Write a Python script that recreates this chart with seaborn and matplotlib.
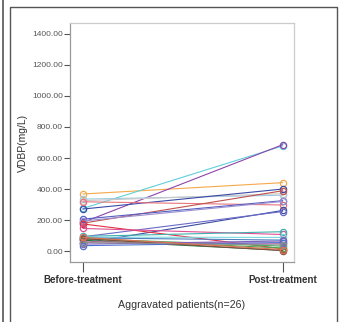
import matplotlib
matplotlib.use("Agg")
import matplotlib.pyplot as plt
from matplotlib.lines import Line2D
import numpy as np
import pandas as pd
import seaborn as sns

# values (mg/L)
times = ["Before-treatment", "Post-treatment"]
before = [368, 275, 185, 335, 325, 271, 318, 180, 206, 194, 50, 92, 175,
          146, 95, 90, 85, 80, 70, 78, 60, 45, 35, 80, 55, 88]
after = [441, 678, 686, 360, 370, 400, 297, 389, 325, 320, 262, 255, 15,
         107, 125, 88, 71, 32, 5, 20, 50, 65, 55, 3, 40, 10]
colors = ["#f5a94a", "#5fd0d8", "#8e44ad", "#9ecae1", "#c8c8c8", "#3a4aa8",
          "#e8747c", "#c0504d", "#5560c0", "#9a8fd0", "#3b4ba0", "#6a6ac8",
          "#e03040", "#e05090", "#40b0b0", "#80d8e0", "#4f81bd", "#3cb060",
          "#207040", "#50a050", "#d070a0", "#8060c0", "#5070d0", "#805040",
          "#909090", "#e07050"]

patients = [f"P{i+1}" for i in range(len(before))]
df = pd.DataFrame({
    "patient": patients * 2,
    "time": [times[0]] * len(before) + [times[1]] * len(after),
    "value": before + after,
})
df["x"] = df["time"].map({times[0]: 0, times[1]: 1})

sns.set_style("white")
plt.rcParams["font.family"] = ["Liberation Sans", "DejaVu Sans"]

fig = plt.figure(figsize=(3.46, 3.22), dpi=100)
ax = fig.add_axes([0.202, 0.186, 0.647, 0.743])

sns.lineplot(data=df, x="x", y="value", hue="patient", hue_order=patients,
             palette=colors, marker="o", markersize=4.5, linewidth=0.8,
             legend=False, ax=ax, sort=False)
for ln in ax.lines:
    ln.set_markerfacecolor("none")
    ln.set_markeredgecolor(ln.get_color())
    ln.set_markeredgewidth(0.9)

ax.set_xlim(-0.065, 1.055)
ax.set_ylim(-71, 1471)
ax.set_xticks([0, 1])
ax.set_xticklabels(times, fontsize=7, fontweight="bold", color="#333333")
ax.set_yticks(np.arange(0, 1401, 200))
ax.set_yticklabels([f"{v:.2f}" for v in np.arange(0, 1401, 200)],
                   fontsize=6, color="#555555")
ax.tick_params(axis="y", direction="out", length=4, width=0.8,
               color="#555555", pad=1, left=True)
ax.tick_params(axis="x", direction="out", length=7, width=0.8,
               color="#555555", pad=2, bottom=True)
ax.set_xlabel("Aggravated patients(n=26)", fontsize=7.7, color="#333333",
              labelpad=11)
ax.set_ylabel("VDBP(mg/L)", fontsize=7.5, color="#333333", labelpad=3)

for s in ["left", "bottom"]:
    ax.spines[s].set_color("#999999")
    ax.spines[s].set_linewidth(0.9)
for s in ["top", "right"]:
    ax.spines[s].set_color("#cccccc")
    ax.spines[s].set_linewidth(0.9)

# surrounding panel frame
W, H = 346, 322
fig.add_artist(Line2D([3 / W, 3 / W], [0, 1], color="#555555", lw=1.2))
fig.add_artist(Line2D([9.5 / W, 9.5 / W, 337 / W, 337 / W],
                      [0, 1 - 7 / H, 1 - 7 / H, 0], color="#555555", lw=1.0))

fig.savefig("out.png", dpi=100)
